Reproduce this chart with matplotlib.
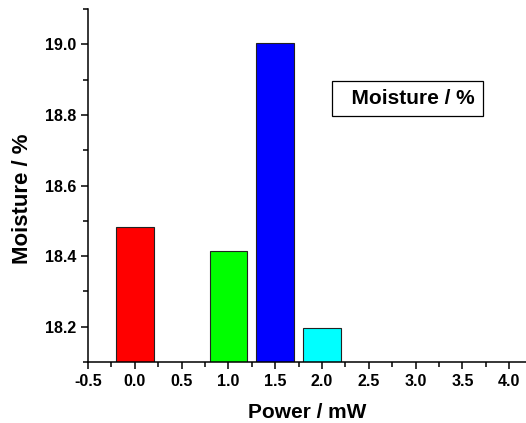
import matplotlib
matplotlib.use('Agg')
import matplotlib.pyplot as plt
from matplotlib.ticker import MultipleLocator, FormatStrFormatter

plt.rcParams['font.family'] = ['Liberation Sans', 'DejaVu Sans']
plt.rcParams['font.weight'] = 'bold'

power = [0.0, 1.0, 1.5, 2.0]
moisture = [18.483, 18.414, 19.003, 18.196]
colors = ['#ff0000', '#00ff00', '#0000ff', '#00ffff']

fig = plt.figure(figsize=(5.26, 4.23), dpi=100)
ax = fig.add_axes([0.1673, 0.1442, 0.8327, 0.8345])

ax.bar(power, moisture, width=0.4, color=colors, edgecolor='#222222', linewidth=0.8)

ax.set_xlim(-0.5, 4.18)
ax.set_ylim(18.1, 19.1)

ax.spines['top'].set_visible(False)
ax.spines['right'].set_visible(False)
for s in ('left', 'bottom'):
    ax.spines[s].set_linewidth(1.1)

ax.xaxis.set_major_locator(MultipleLocator(0.5))
ax.xaxis.set_minor_locator(MultipleLocator(0.25))
ax.yaxis.set_major_locator(MultipleLocator(0.2))
ax.yaxis.set_minor_locator(MultipleLocator(0.1))
ax.xaxis.set_major_formatter(FormatStrFormatter('%.1f'))
ax.yaxis.set_major_formatter(FormatStrFormatter('%.1f'))
ax.tick_params(which='major', direction='out', length=5, width=1.1, labelsize=11.5)
ax.tick_params(which='minor', direction='out', length=3.5, width=1.1)
for lab in ax.get_xticklabels() + ax.get_yticklabels():
    lab.set_fontweight('bold')

ax.set_xlabel('Power / mW', fontsize=15, fontweight='bold', labelpad=10)
ax.set_ylabel('Moisture / %', fontsize=16, fontweight='bold')
ax.yaxis.set_label_coords(-0.125, 0.462)

# legend-style label box
ax.text(0.5756, 0.746, '  Moisture / %', transform=ax.transAxes, fontsize=15,
        fontweight='bold', ha='left', va='center',
        bbox=dict(boxstyle='square,pad=0.38', facecolor='white', edgecolor='black', linewidth=0.9))

fig.savefig('out.png', dpi=100)
